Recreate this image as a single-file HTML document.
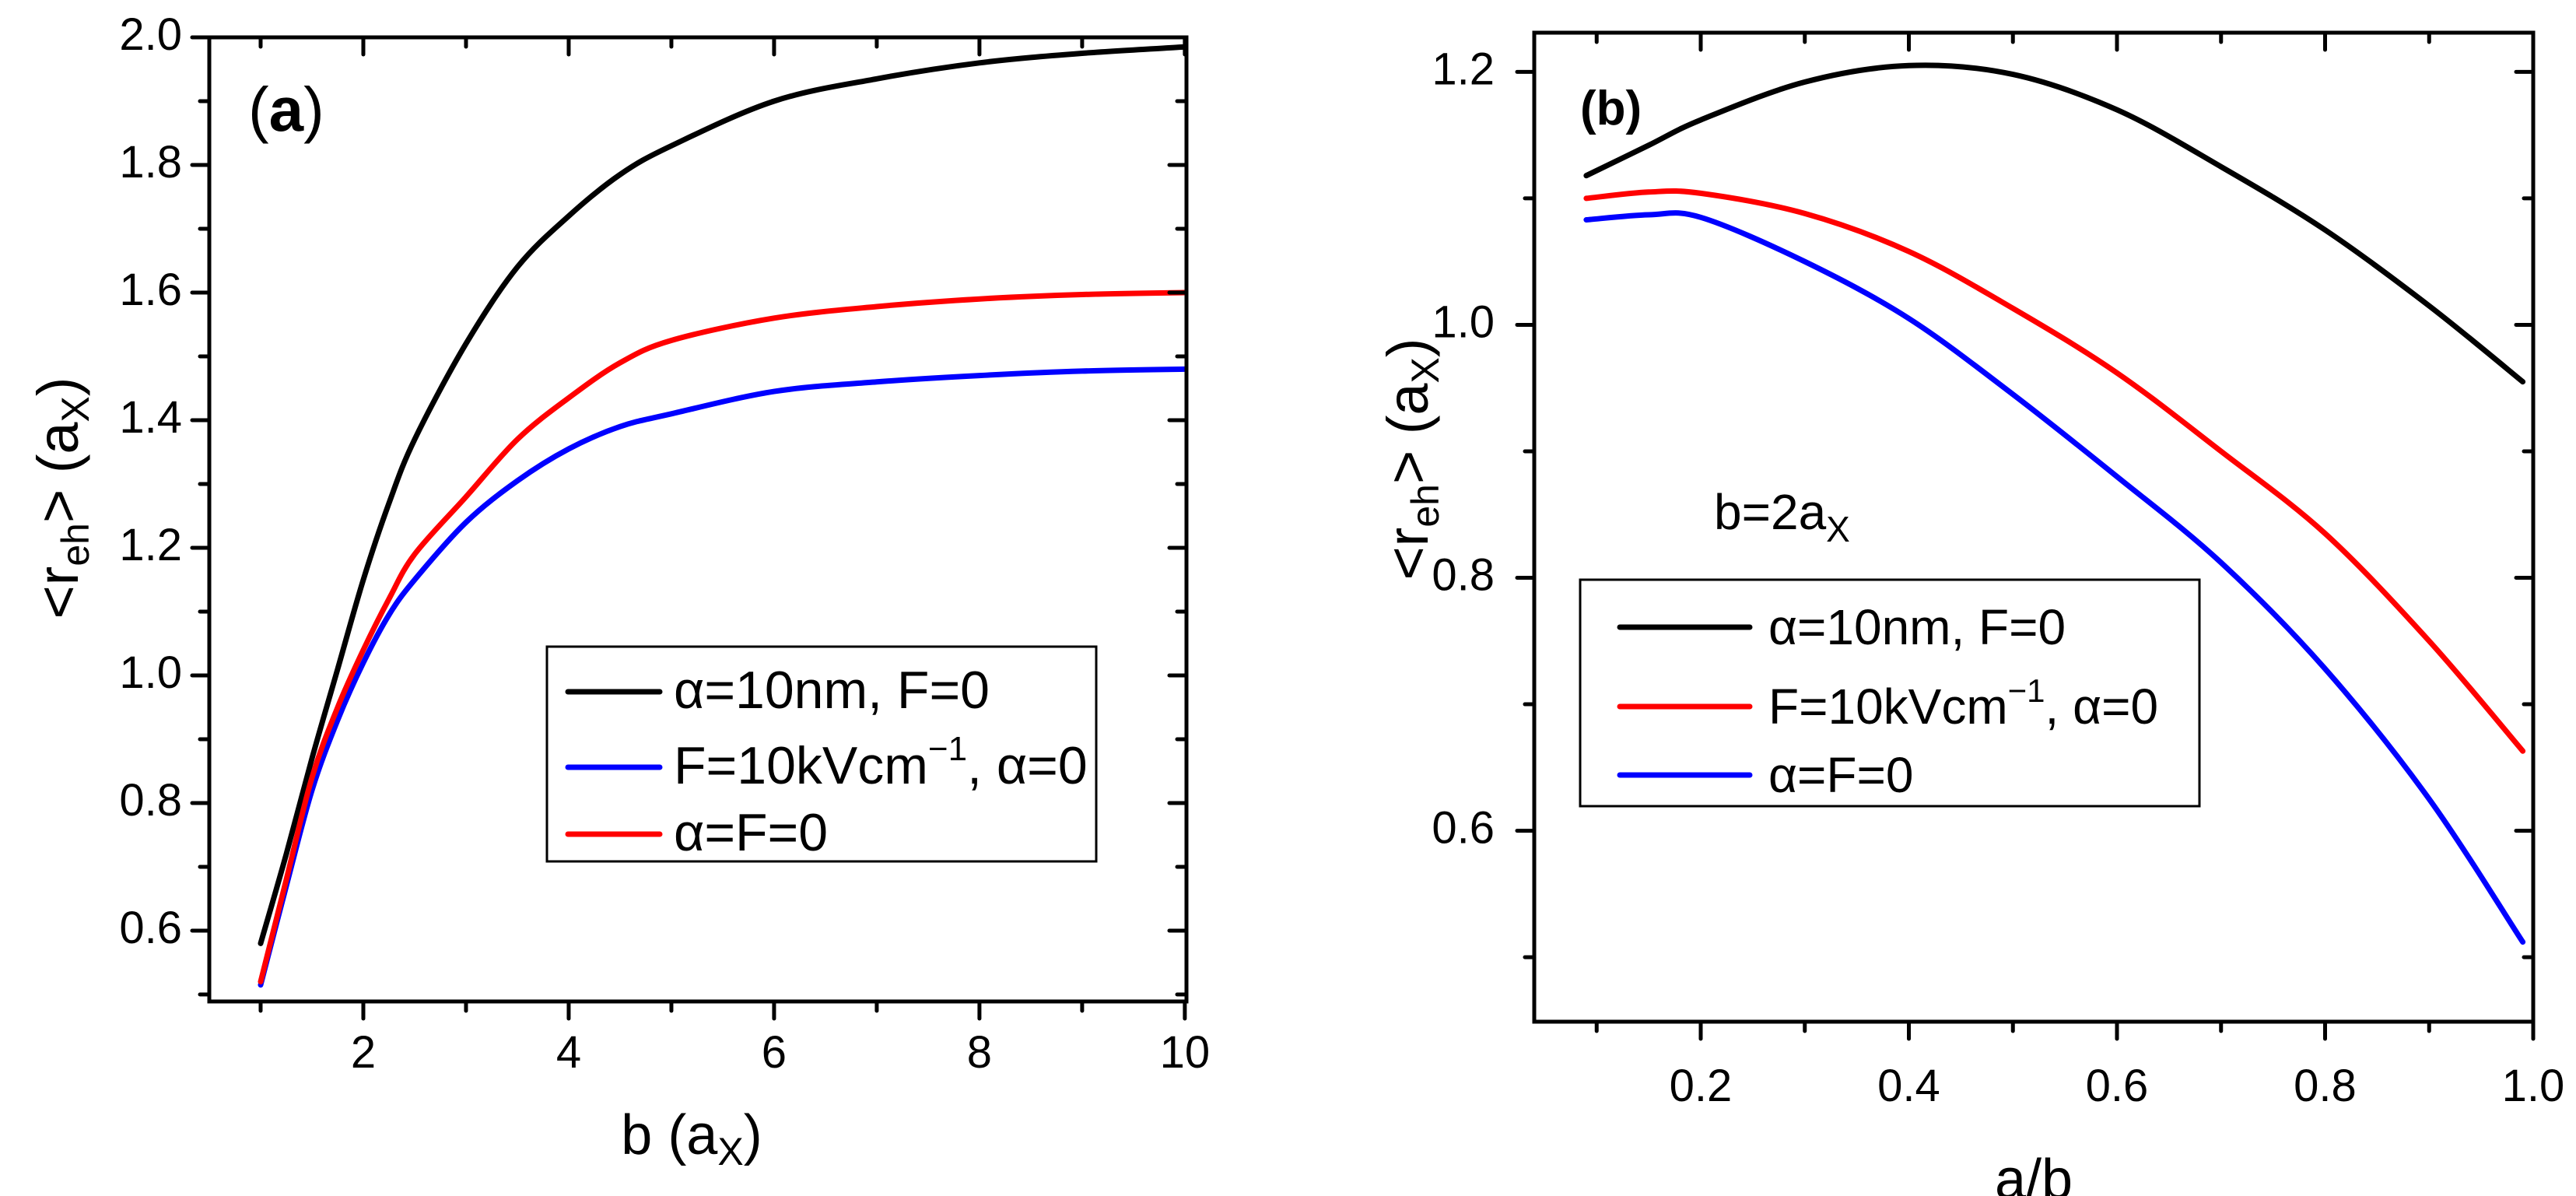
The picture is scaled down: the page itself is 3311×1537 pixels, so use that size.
<!DOCTYPE html>
<html><head><meta charset="utf-8"><style>
html,body{margin:0;padding:0;background:#fff}
svg{display:block;font-family:"Liberation Sans",Arial,sans-serif}
</style></head><body>
<svg id="fig" width="3311" height="1537" viewBox="0 0 3311 1537"></svg>
<script>
// Panel (a) data
const aX = [1,1.25,1.5,1.75,2,2.25,2.5,3,3.5,4,4.5,5,6,7,8,9,10];
const aBlack = [0.58,0.72,0.87,1.01,1.15,1.27,1.37,1.52,1.64,1.72,1.785,1.83,1.90,1.935,1.96,1.975,1.985];
const aRed   = [0.52,0.68,0.84,0.95,1.04,1.12,1.19,1.28,1.37,1.435,1.49,1.525,1.56,1.578,1.59,1.597,1.60];
const aBlue  = [0.515,0.67,0.82,0.93,1.02,1.095,1.15,1.24,1.305,1.355,1.39,1.41,1.445,1.46,1.47,1.477,1.48];
const aXTicks = ["2","4","6","8","10"];
const aYTicks = ["0.6","0.8","1.0","1.2","1.4","1.6","1.8","2.0"];
// Panel (b) data
const bX = [0.09,0.15,0.2,0.3,0.4,0.5,0.6,0.7,0.8,0.9,0.99];
const bBlack = [1.118,1.142,1.162,1.192,1.205,1.198,1.17,1.125,1.075,1.015,0.955];
const bRed   = [1.100,1.105,1.104,1.088,1.058,1.013,0.962,0.900,0.835,0.750,0.663];
const bBlue  = [1.083,1.087,1.085,1.050,1.005,0.945,0.880,0.812,0.728,0.625,0.512];
const bXTicks = ["0.2","0.4","0.6","0.8","1.0"];
const bYTicks = ["0.6","0.8","1.0","1.2"];

const NS="http://www.w3.org/2000/svg";
const svg=document.getElementById('fig');
function mk(tag,attrs,parent){const e=document.createElementNS(NS,tag);for(const k in attrs)e.setAttribute(k,attrs[k]);(parent||svg).appendChild(e);return e;}
function smooth(pts){
  let d='M'+pts[0][0].toFixed(1)+','+pts[0][1].toFixed(1);
  for(let i=0;i<pts.length-1;i++){
    const p0=pts[i-1]||pts[i],p1=pts[i],p2=pts[i+1],p3=pts[i+2]||p2;
    const c1=[p1[0]+(p2[0]-p0[0])/6,p1[1]+(p2[1]-p0[1])/6];
    const c2=[p2[0]-(p3[0]-p1[0])/6,p2[1]-(p3[1]-p1[1])/6];
    d+=' C'+c1.map(v=>v.toFixed(1))+' '+c2.map(v=>v.toFixed(1))+' '+p2.map(v=>v.toFixed(1));
  }
  return d;
}

function panel(cfg){
  const g=mk('g',{});
  
  
  const sx=v=>cfg.L+(v-cfg.x0)*(cfg.R-cfg.L)/(cfg.x1-cfg.x0);
  const sy=v=>cfg.B-(v-cfg.y0)*(cfg.B-cfg.T)/(cfg.y1-cfg.y0);
  cfg.series.forEach(s=>{
    const pts=cfg.xs.map((x,i)=>[sx(x),sy(s.v[i])]);
    const p=mk('path',{d:smooth(pts),fill:'none',stroke:s.c,'stroke-width':7,'stroke-linejoin':'round','stroke-linecap':'round'},g);
    
    
  });
  const fr=mk('rect',{x:cfg.L,y:cfg.T,width:cfg.R-cfg.L,height:cfg.B-cfg.T,fill:'none',stroke:'#000','stroke-width':5},g);
  
  
  for(let v=cfg.xmin;v<=cfg.x1+1e-9;v+=cfg.xminor){
    const major=Math.abs(Math.round(v/cfg.xmajor)*cfg.xmajor-v)<1e-6;
    const len=major?22:12; const X=sx(v);
    mk('line',{x1:X,y1:cfg.B,x2:X,y2:cfg.B+len,stroke:'#000','stroke-width':5,'stroke-linecap':'round'},g);
    mk('line',{x1:X,y1:cfg.T,x2:X,y2:cfg.T+len,stroke:'#000','stroke-width':5,'stroke-linecap':'round'},g);
  }
  cfg.xticks.forEach(t=>{
    const tx=mk('text',{x:sx(parseFloat(t)),y:cfg.xlabY,'font-size':58,'text-anchor':'middle'},g);
    tx.textContent=t;
    
    
  });
  for(let v=cfg.ymin;v<=cfg.y1+1e-9;v+=cfg.yminor){
    const major=Math.abs(Math.round(v/cfg.ymajor)*cfg.ymajor-v)<1e-6;
    const len=major?22:12; const Y=sy(v);
    mk('line',{x1:cfg.L-len,y1:Y,x2:cfg.L,y2:Y,stroke:'#000','stroke-width':5,'stroke-linecap':'round'},g);
    mk('line',{x1:cfg.R-len,y1:Y,x2:cfg.R,y2:Y,stroke:'#000','stroke-width':5,'stroke-linecap':'round'},g);
  }
  cfg.yticks.forEach(t=>{
    const tx=mk('text',{x:cfg.ylabX,y:sy(parseFloat(t))+16,'font-size':58,'text-anchor':'end'},g);
    tx.textContent=t;
    
    
  });
  return g;
}

panel({name:'panel-a',L:269,R:1525,T:48,B:1287,x0:0.5,x1:10.016,y0:0.489,y1:2.0,
  xs:aX,series:[{v:aBlack,c:'#000',n:'series-alpha-10nm'},{v:aBlue,c:'#0000ff',n:'series-field-10kV'},{v:aRed,c:'#ff0000',n:'series-zero'}],
  xmin:1,xminor:1,xmajor:2,xticks:aXTicks,xlabY:1372,
  ymin:0.5,yminor:0.1,ymajor:0.2,yticks:aYTicks,ylabX:234});

panel({name:'panel-b',L:1972,R:3256,T:42,B:1313,x0:0.04,x1:1.0,y0:0.449,y1:1.231,
  xs:bX,series:[{v:bBlack,c:'#000',n:'series-alpha-10nm'},{v:bRed,c:'#ff0000',n:'series-field-10kV'},{v:bBlue,c:'#0000ff',n:'series-zero'}],
  xmin:0.1,xminor:0.1,xmajor:0.2,xticks:bXTicks,xlabY:1415,
  ymin:0.5,yminor:0.1,ymajor:0.2,yticks:bYTicks,ylabX:1921});
</script>
<script>
const s2=document.getElementById('fig');
s2.insertAdjacentHTML('beforeend',`
<text x="319" y="168" font-size="80">(<tspan font-weight="bold">a</tspan>)</text>
<text x="2031" y="160" font-size="62" font-weight="bold">(b)</text>
<text x="889" y="1483" font-size="72" text-anchor="middle">b (a<tspan font-size="50" dy="14">X</tspan><tspan dy="-14">)</tspan></text>
<text x="2614" y="1540" font-size="72" text-anchor="middle">a/b</text>
<text transform="translate(100,640) rotate(-90)" font-size="74" text-anchor="middle">&lt;r<tspan font-size="50" dy="14">eh</tspan><tspan dy="-14">&gt; (a</tspan><tspan font-size="50" dy="14">X</tspan><tspan dy="-14">)</tspan></text>
<text transform="translate(1835,590) rotate(-90)" font-size="74" text-anchor="middle">&lt;r<tspan font-size="50" dy="14">eh</tspan><tspan dy="-14">&gt; (a</tspan><tspan font-size="50" dy="14">X</tspan><tspan dy="-14">)</tspan></text>
<text x="2203" y="680" font-size="64">b=2a<tspan font-size="46" dy="16">X</tspan></text>
<g>
<rect x="703" y="831" width="706" height="276" fill="#fff" stroke="#000" stroke-width="3"/>
<line x1="730" y1="889" x2="848" y2="889" stroke="#000" stroke-width="7" stroke-linecap="round"/>
<text x="866" y="910" font-size="68">α=10nm, F=0</text>
<line x1="730" y1="986" x2="848" y2="986" stroke="#0000ff" stroke-width="7" stroke-linecap="round"/>
<text x="866" y="1007" font-size="68">F=10kVcm<tspan font-size="44" dy="-30">−1</tspan><tspan dy="30">, α=0</tspan></text>
<line x1="730" y1="1072" x2="848" y2="1072" stroke="#ff0000" stroke-width="7" stroke-linecap="round"/>
<text x="866" y="1093" font-size="68">α=F=0</text>
</g>
<g>
<rect x="2031" y="745" width="796" height="291" fill="#fff" stroke="#000" stroke-width="3"/>
<line x1="2082" y1="806" x2="2249" y2="806" stroke="#000" stroke-width="7" stroke-linecap="round"/>
<text x="2273" y="828" font-size="64">α=10nm, F=0</text>
<line x1="2082" y1="908" x2="2249" y2="908" stroke="#ff0000" stroke-width="7" stroke-linecap="round"/>
<text x="2273" y="930" font-size="64">F=10kVcm<tspan font-size="42" dy="-28">−1</tspan><tspan dy="28">, α=0</tspan></text>
<line x1="2082" y1="996" x2="2249" y2="996" stroke="#0000ff" stroke-width="7" stroke-linecap="round"/>
<text x="2273" y="1018" font-size="64">α=F=0</text>
</g>`);
</script>
</body></html>
